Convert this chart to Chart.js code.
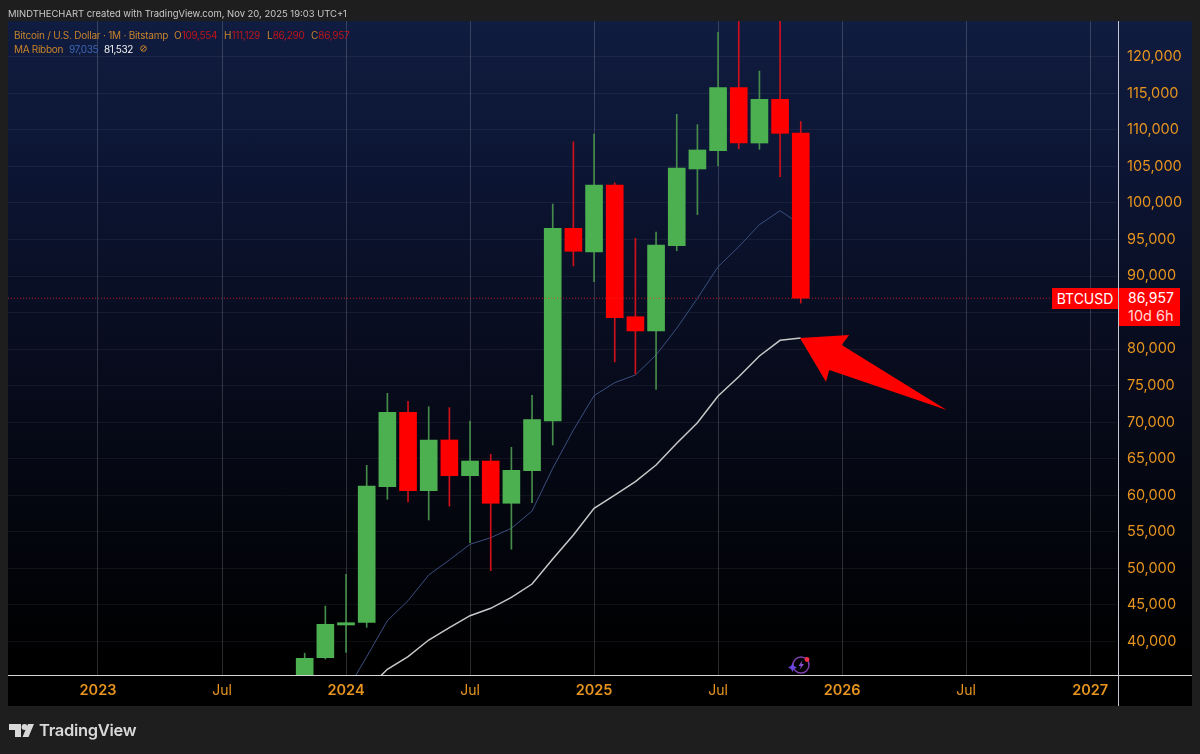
<!DOCTYPE html>
<html>
<head>
<meta charset="utf-8">
<title>BTCUSD 1M</title>
<script src="https://cdn.jsdelivr.net/npm/chart.js@4"></script>
<style>
  html, body { margin: 0; padding: 0; background: #1e1e1e; }
  body { width: 1200px; height: 754px; position: relative; overflow: hidden; font-family: Inter, "Liberation Sans", sans-serif; }
  #pane { position: absolute; left: 8px; top: 21px; width: 1184px; height: 685px;
    background: linear-gradient(#101c40 0, #0c1533 22%, #080d20 45%, #04060f 72%, #000 94%); }
  #chart { position: absolute; left: 0; top: 0; }
  .abs { position: absolute; white-space: nowrap; }
  #header { left: 8px; top: 6px; font-size: 9.45px; line-height: 16px; color: #c9c9c9; }
  .legend { font-size: 10px; line-height: 14px; color: #c9842a; }
  .legend .red { color: #c0151b; letter-spacing: -0.3px; }
  .blue { color: #3f68b5; letter-spacing: -0.4px; }
  .white { color: #f2f2f2; letter-spacing: -0.4px; }
  #hline { left: 8px; top: 675px; width: 1184px; height: 1px; background: #d4d4d4; }
  #vline { left: 1118px; top: 21px; width: 1px; height: 685px; background: #c4c6d0; }
  #symbol { left: 1052px; top: 288px; width: 66px; height: 21px; background: #ff0000; color: #fff; font-size: 14px; line-height: 21px; text-align: center; }
  #pricebox { left: 1119px; top: 288px; width: 61px; height: 38px; background: #ff0000; color: #fff; }
  #pricebox div { padding-left: 9px; font-size: 14px; line-height: 19px; }
  #pricebox div + div { color: #ffd9d9; line-height: 17px; font-size: 14.5px; }
  #brand { left: 39px; top: 719px; font-size: 16.5px; line-height: 22px; font-weight: 600; color: #d8d8d8; letter-spacing: -0.3px; }
</style>
</head>
<body>
<div id="pane"></div>
<canvas id="chart" width="1200" height="754"></canvas>
<div id="hline" class="abs"></div>
<div id="vline" class="abs"></div>

<div id="header" class="abs">MINDTHECHART created with TradingView.com, Nov 20, 2025 19:03 UTC+1</div>

<div class="abs legend" style="left:14px;top:28px;letter-spacing:-0.22px">Bitcoin / U.S. Dollar · 1M · Bitstamp</div>
<div id="legO" class="abs legend" style="left:174px;top:28px"></div>
<div id="legH" class="abs legend" style="left:224px;top:28px"></div>
<div id="legL" class="abs legend" style="left:267px;top:28px"></div>
<div id="legC" class="abs legend" style="left:311px;top:28px"></div>

<div class="abs legend" style="left:14px;top:42px;letter-spacing:-0.3px">MA Ribbon</div>
<div id="legFast" class="abs legend blue" style="left:69px;top:42px"></div>
<div id="legSlow" class="abs legend white" style="left:104px;top:42px"></div>
<svg class="abs" style="left:140px;top:45px" width="7" height="7" viewBox="0 0 7 7">
  <circle cx="3.5" cy="3.5" r="2.8" fill="none" stroke="#c9842a"/>
  <path d="M1.5 5.5 L5.5 1.5" stroke="#c9842a"/>
</svg>

<div id="symbol" class="abs">BTCUSD</div>
<div id="pricebox" class="abs"><div id="lastprice"></div><div>10d 6h</div></div>

<!-- assistant icon above the time axis -->
<svg class="abs" style="left:788px;top:654px" width="26" height="22" viewBox="0 0 26 22">
  <circle cx="13" cy="11" r="8" fill="none" stroke="#7d3fb0" stroke-width="1.5"/>
  <path d="M14.5 6 L10.5 12 H13 L11.5 16 L16 10 H13.5 Z" fill="#8a4fd0"/>
  <path d="M4.5 9 L6 12 L9 13.5 L6 15 L4.5 18 L3 15 L0 13.5 L3 12 Z" fill="#6a45e0"/>
  <circle cx="19" cy="5.5" r="2.4" fill="#f0304a"/>
</svg>

<!-- TV logo -->
<svg class="abs" style="left:9px;top:723px" width="26" height="16" viewBox="0 0 26 16">
  <path d="M0 1 H12 V14 H6 V7 H0 Z" fill="#d8d8d8"/>
  <circle cx="15.5" cy="4" r="2.9" fill="#d8d8d8"/>
  <path d="M19 1 H25 L19.5 14 H13.5 Z" fill="#d8d8d8"/>
</svg>
<div id="brand" class="abs">TradingView</div>

<script>
// month index, 0 = Jan 2023
const candleMonths = [10, 11, 12, 13, 14, 15, 16, 17, 18, 19, 20, 21, 22, 23, 24, 25, 26, 27, 28, 29, 30, 31, 32, 33, 34];
const opens  = [34640, 37785, 42260, 42600, 61170, 71350, 60630, 67570, 62680, 64690, 58910, 63370, 70160, 96520, 93280, 102450, 84430, 82480, 94150, 104640, 107140, 115760, 108190, 114170, 109554];
const closes = [37700, 42354, 42570, 61270, 71350, 60630, 67570, 62680, 64690, 58910, 63420, 70350, 96520, 93380, 102450, 84300, 82480, 94240, 104770, 107240, 115760, 108190, 114170, 109520, 86957];
const highs  = [38400, 44850, 49200, 64100, 73950, 72860, 72120, 71990, 70160, 65610, 66560, 73680, 99850, 108370, 109430, 102760, 95160, 96020, 112120, 110700, 123340, 125000, 118040, 126000, 111129];
const lows   = [34100, 37600, 38520, 41950, 59450, 59090, 56620, 58530, 53520, 49690, 52620, 58990, 66880, 91370, 89220, 78240, 76590, 74500, 93460, 98390, 105090, 107420, 107330, 103590, 86290];

const maFast = [null, null, 33100, 37920, 42850, 45580, 49100, 51150, 53300, 54200, 55490, 57850, 63700, 68930, 73630, 75410, 76460, 79200, 82850, 86950, 91270, 94010, 97020, 98930, 97035];
const maSlow = [null, null, null, 33400, 36200, 37920, 40200, 41890, 43530, 44540, 46040, 47860, 51290, 54570, 58220, 60040, 61860, 64150, 67120, 69930, 73590, 76220, 79060, 81200, 81532];

const priceTicks = [40000, 45000, 50000, 55000, 60000, 65000, 70000, 75000, 80000, 85000, 90000, 95000, 100000, 105000, 110000, 115000, 120000];
const timeTicks = [0, 6, 12, 18, 24, 30, 36, 42, 48];
const timeLabels = ['2023', 'Jul', '2024', 'Jul', '2025', 'Jul', '2026', 'Jul', '2027'];

// hand drawn arrow, month / price pairs
const arrowMonths = [33.96, 36.34, 35.98, 41.06, 35.38, 35.22];
const arrowPrices = [81532, 81929, 80561, 71669, 77141, 75540];

const lastIdx = closes.length - 1;
const fmt = v => v.toLocaleString('en-US');

document.getElementById('lastprice').textContent = fmt(closes[lastIdx]);
document.getElementById('legO').innerHTML = `O<span class="red">${fmt(opens[lastIdx])}</span>`;
document.getElementById('legH').innerHTML = `H<span class="red">${fmt(highs[lastIdx])}</span>`;
document.getElementById('legL').innerHTML = `L<span class="red">${fmt(lows[lastIdx])}</span>`;
document.getElementById('legC').innerHTML = `C<span class="red">${fmt(closes[lastIdx])}</span>`;
document.getElementById('legFast').textContent = fmt(maFast[lastIdx]);
document.getElementById('legSlow').textContent = fmt(maSlow[lastIdx]);

const upColor = '#4caf50';
const downColor = '#ff0000';
const axisColor = '#e8951f';
const isUp = i => closes[i] >= opens[i];

const xMin = -4.354;
const xMax = 49.3;

new Chart(document.getElementById('chart').getContext('2d'), {
    type: 'bar',
    data: {
        datasets: [
            {
                label: 'Last price',
                type: 'line',
                data: [{ x: xMin, y: closes[lastIdx] }, { x: xMax, y: closes[lastIdx] }],
                borderColor: 'rgba(255, 40, 40, 0.65)',
                borderWidth: 1,
                borderDash: [1, 2],
                pointRadius: 0,
                order: 2
            },
            {
                label: 'Arrow',
                type: 'line',
                data: arrowMonths.map((m, i) => ({ x: m, y: arrowPrices[i] })),
                borderWidth: 0,
                borderColor: 'rgba(0, 0, 0, 0)',
                backgroundColor: downColor,
                fill: 'shape',
                pointRadius: 0,
                order: 1
            },
            {
                label: 'Body',
                data: candleMonths.map((m, i) => ({ x: m, y: [opens[i], closes[i]] })),
                backgroundColor: candleMonths.map((m, i) => isUp(i) ? upColor : downColor),
                barThickness: 17,
                grouped: false,
                order: 3
            },
            {
                label: 'Wick',
                data: candleMonths.map((m, i) => ({ x: m, y: [lows[i], highs[i]] })),
                backgroundColor: candleMonths.map((m, i) => isUp(i) ? '#468c4a' : '#d0101a'),
                barThickness: 1,
                grouped: false,
                order: 4
            },
            {
                label: 'MA fast',
                type: 'line',
                data: candleMonths.map((m, i) => ({ x: m, y: maFast[i] })),
                borderColor: '#3b4f80',
                borderWidth: 1,
                pointRadius: 0,
                order: 5
            },
            {
                label: 'MA slow',
                type: 'line',
                data: candleMonths.map((m, i) => ({ x: m, y: maSlow[i] })),
                borderColor: '#c8c8c8',
                borderWidth: 1.5,
                pointRadius: 0,
                order: 5
            }
        ]
    },
    options: {
        responsive: false,
        animation: false,
        layout: { padding: { left: 8, top: 21, right: 8, bottom: 48 } },
        plugins: {
            legend: { display: false },
            tooltip: { enabled: false }
        },
        scales: {
            x: {
                type: 'linear',
                offset: false,
                min: xMin,
                max: xMax,
                border: { display: false },
                grid: { color: 'rgba(255, 255, 255, 0.17)', lineWidth: 1, drawTicks: false, offset: false },
                afterBuildTicks: axis => { axis.ticks = timeTicks.map(v => ({ value: v })); },
                afterFit: axis => { axis.height = 31; },
                ticks: {
                    autoSkip: false,
                    maxRotation: 0,
                    padding: 7,
                    color: axisColor,
                    font: c => {
                        const isYear = timeLabels[c.index] !== 'Jul';
                        return { family: 'Inter', size: isYear ? 14.5 : 14, weight: isYear ? '600' : '400' };
                    },
                    callback: (value, index) => timeLabels[index]
                }
            },
            y: {
                position: 'right',
                min: 35417,
                max: 124884,
                border: { display: false },
                grid: { color: 'rgba(255, 255, 255, 0.055)', lineWidth: 1, drawTicks: false },
                afterBuildTicks: axis => { axis.ticks = priceTicks.map(v => ({ value: v })); },
                afterFit: axis => { axis.width = 75; },
                ticks: {
                    autoSkip: false,
                    padding: 10,
                    color: axisColor,
                    font: { family: 'Inter', size: 14.5 },
                    // 85,000 sits under the price label
                    callback: value => value === 85000 ? '' : fmt(value)
                }
            }
        }
    }
});
</script>
</body>
</html>
